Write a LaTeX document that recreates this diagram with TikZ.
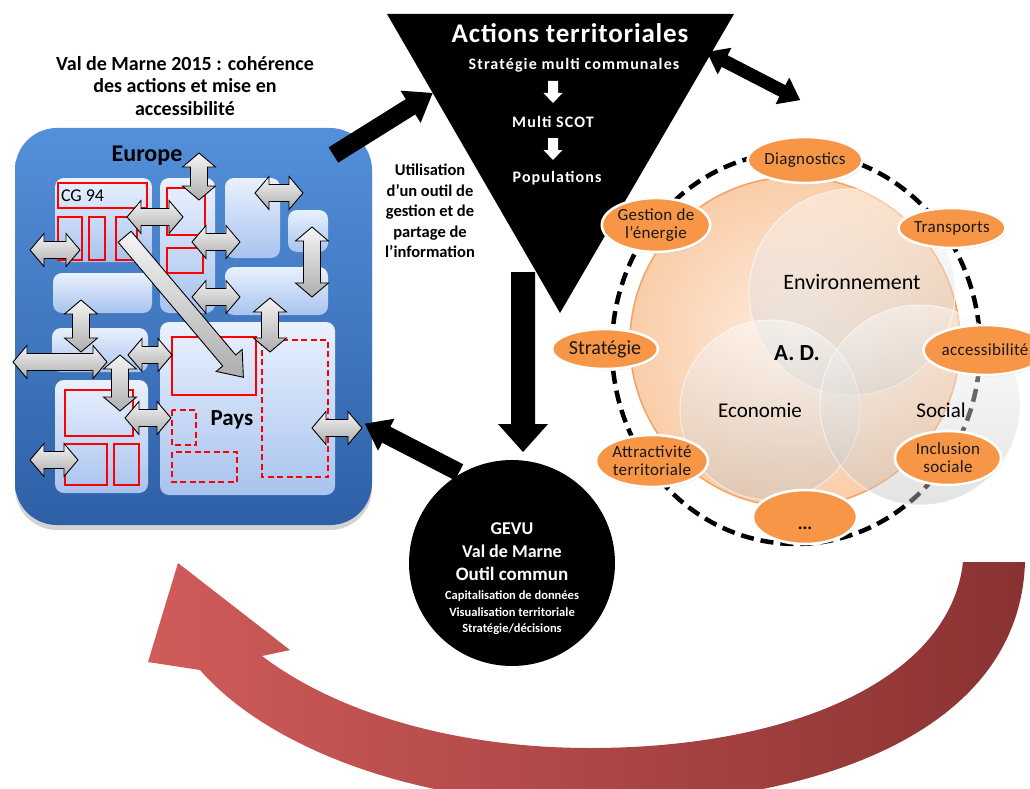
\documentclass[tikz,border=0pt]{standalone}
\usepackage{fontspec}
\setmainfont{Carlito}
\usetikzlibrary{shapes.geometric,shadows,calc}

\definecolor{panelTop}{RGB}{84,144,218}
\definecolor{panelBot}{RGB}{46,96,166}
\definecolor{boxTop}{RGB}{234,241,254}
\definecolor{boxBot}{RGB}{168,195,238}
\definecolor{orng}{RGB}{247,150,70}
\definecolor{peachIn}{RGB}{253,238,226}
\definecolor{peachOut}{RGB}{250,205,168}
\definecolor{peachEdge}{RGB}{244,162,100}
\definecolor{redLight}{RGB}{208,92,90}
\definecolor{redDark}{RGB}{138,50,50}

% block arrow: style, centre x, centre y, angle, half length, half shaft, half head, head length
\newcommand\blkarr[8]{%
  \path[#1, shift={(#2,#3)}, rotate=#4]
    (-#5,-#6) -- (#5-#8,-#6) -- (#5-#8,-#7) -- (#5,0) -- (#5-#8,#7) -- (#5-#8,#6) -- (-#5,#6) -- cycle;}
% double block arrow, same arguments
\newcommand\dblarr[8]{%
  \path[#1, shift={(#2,#3)}, rotate=#4]
    (-#5,0) -- (-#5+#8,-#7) -- (-#5+#8,-#6) -- (#5-#8,-#6) -- (#5-#8,-#7) -- (#5,0)
    -- (#5-#8,#7) -- (#5-#8,#6) -- (-#5+#8,#6) -- (-#5+#8,#7) -- cycle;}
% grey double arrow of the territory panel
\newcommand\garr[4]{\dblarr{garrow}{#1}{#2}{#3}{#4}{8.5}{16.5}{14}}

\begin{document}
\begin{tikzpicture}[x=1pt,y=-1pt,
  every node/.style={inner sep=0pt, outer sep=0pt, align=center},
  panel/.style={rounded corners=42pt, top color=panelTop, bottom color=panelBot},
  cell/.style={rounded corners=9pt, top color=boxTop, bottom color=boxBot},
  zone/.style={draw=red, line width=2.2pt},
  dzone/.style={draw=red, line width=2.2pt, dash pattern=on 6pt off 3.5pt},
  garrow/.style={draw=black, line width=0.9pt, top color=white!96!black, bottom color=black!32, line join=miter},
  blackarrow/.style={fill=black},
  whitearrow/.style={fill=white},
  bubble/.style={ellipse, fill=orng, draw=white, line width=2.6pt,
    font=\fontsize{17}{18}\selectfont\addfontfeature{LetterSpace=2}, text=black!90,
    drop shadow={opacity=0.25, shadow xshift=1pt, shadow yshift=-1.5pt}},
  venn/.style={top color=white, bottom color=black!24, fill opacity=0.45, draw=white, draw opacity=0.6, line width=1pt},
  ttl/.style={font=\fontsize{20}{22.5}\selectfont\bfseries},
  wtxt/.style={text=white, font=\fontsize{16}{18}\selectfont\bfseries\addfontfeature{LetterSpace=7}},
]
\useasboundingbox (0,0) rectangle (1030,789);

% ---------- large returning arrow ----------
\path[left color=redLight, right color=redDark]
  (178,563) -- (290,650) -- (262,656)
  .. controls (340,715) and (460,748) .. (590,748)
  .. controls (790,748) and (950,680) .. (963,562)
  -- (1025,562)
  .. controls (1020,730) and (820,805) .. (590,805)
  .. controls (420,805) and (270,750) .. (200,670)
  -- (148,662) -- cycle;

% ---------- title ----------
\node[ttl] (title) at (185,86) {Val de Marne 2015 : cohérence\\des actions et mise en\\accessibilité};

% ---------- territory panel ----------
\path[panel, drop shadow={opacity=0.35, shadow xshift=0pt, shadow yshift=-5pt}] (15,128) rectangle (372,525);
\node[font=\fontsize{24}{26}\selectfont\bfseries] (europe) at (147,156) {Europe};

\path[cell] (55,178) rectangle (152,262);
\path[cell] (160,178) rectangle (215,313);
\path[cell] (225,178) rectangle (280,258);
\path[cell] (288,210) rectangle (328,252);
\path[cell] (225,267) rectangle (328,315);
\path[cell] (53,273) rectangle (152,313);
\path[cell] (52,328) rectangle (148,372);
\path[cell] (55,380) rectangle (148,493);
\path[cell] (160,322) rectangle (335,495);

\draw[zone] (58,183) rectangle (147,208);
\node[font=\fontsize{18}{20}\selectfont, anchor=west] (cg) at (61,196) {CG 94};
\draw[zone] (58,217) rectangle (82,260);
\draw[zone] (89,217) rectangle (105,260);
\draw[zone] (116,217) rectangle (137,260);
\draw[zone] (167,188) rectangle (205,235);
\draw[zone] (167,248) rectangle (203,273);
\draw[zone] (65,390) rectangle (133,436);
\draw[zone] (65,444) rectangle (107,485);
\draw[zone] (114,444) rectangle (139,485);
\draw[zone] (172,337) rectangle (256,395);
\draw[dzone] (262,340) rectangle (328,477);
\draw[dzone] (172,410) rectangle (196,445);
\draw[dzone] (172,452) rectangle (237,482);
\node[font=\fontsize{23}{25}\selectfont\bfseries] (pays) at (232,420) {Pays};

% exchanges between territories
\garr{199}{176.5}{90}{23.5}
\garr{279}{193}{0}{24}
\garr{216}{242}{0}{24}
\garr{312}{262}{90}{35}
\garr{216}{297}{0}{24}
\garr{55}{250}{0}{25}
\garr{81}{326}{90}{26}
\garr{60}{362}{0}{47}
\garr{150}{355}{0}{22}
\garr{120}{383}{90}{28}
\garr{148}{418}{0}{23}
\garr{54}{460}{0}{24}
\garr{270}{325}{90}{27}
\garr{337}{428}{0}{25}
\blkarr{garrow}{184}{307}{-49.8}{92}{8.5}{17}{22}
\garr{155}{217}{0}{28}

% ---------- territorial actions ----------
\path[fill=black] (387,14) -- (734,14) -- (560,313) -- cycle;
\coordinate (apex) at (560,313);
\node[text=white, font=\fontsize{27}{29}\selectfont\bfseries\addfontfeature{LetterSpace=3}] (actions) at (570,33) {Actions territoriales};
\node[wtxt] (strat) at (574,65) {Stratégie multi communales};
\blkarr{whitearrow}{553}{92}{-90}{11}{5}{9.5}{10}
\node[wtxt] (scot) at (553,122) {Multi SCOT};
\blkarr{whitearrow}{553}{149}{-90}{11}{5}{9.5}{10}
\node[wtxt] (pop) at (557,178) {Populations};

\node[font=\fontsize{16.5}{20.5}\selectfont\bfseries] (util) at (430,211)
  {Utilisation\\d’un outil de\\gestion et de\\partage de\\l’information};

% ---------- GEVU ----------
\node[circle, fill=black, minimum size=206pt] (gevu) at (512,563) {};
\node[text=white, font=\fontsize{18}{22.5}\selectfont\bfseries] (gevut) at (512,552)
  {GEVU\\Val de Marne\\[1pt]{\fontsize{19}{21}\selectfont Outil commun}};
\node[text=white, font=\fontsize{12.5}{16.5}\selectfont\bfseries] (gevus) at (512,613)
  {Capitalisation de données\\Visualisation territoriale\\Stratégie/décisions};

% ---------- connecting arrows ----------
\blkarr{blackarrow}{383}{124}{32}{58.5}{9}{19}{26}
\dblarr{blackarrow}{753.5}{76}{-27.3}{52.5}{6.5}{15}{20}
\blkarr{blackarrow}{523}{362}{-90}{90}{12}{25}{28}
\blkarr{blackarrow}{412}{448}{152.7}{53}{9}{18}{24}

% ---------- sustainable development ----------
\path[inner color=peachIn, outer color=peachOut] (795,342) circle[radius=165pt];
\draw[peachEdge, line width=1.5pt] (795,342) circle[radius=165pt];
\draw[line width=4.5pt, dash pattern=on 13pt off 7pt] (796,348) ellipse[x radius=184pt, y radius=196pt];
\path[venn] (852,292) circle[radius=103pt];
\path[venn] (770,410) circle[radius=90pt];
\path[venn] (920,405) circle[radius=100pt];
\node[font=\fontsize{22}{24}\selectfont] (env) at (852,282) {Environnement};
\node[font=\fontsize{23}{25}\selectfont\bfseries] (ad) at (797,353) {A. D.};
\node[font=\fontsize{21}{23}\selectfont] (eco) at (760,410) {Economie};
\node[font=\fontsize{21}{23}\selectfont] (soc) at (941,410) {Social};

\node[bubble, minimum width=106pt, minimum height=46pt] (diag) at (805,160) {Diagnostics};
\node[bubble, minimum width=104pt, minimum height=40pt] (transp) at (952,228) {Transports};
\node[bubble, minimum width=102pt, minimum height=54pt] (gest) at (656,225) {Gestion de\\l’énergie};
\node[bubble, minimum width=106pt, minimum height=40pt, font=\fontsize{20}{22}\selectfont] (strg) at (605,349) {Stratégie};
\node[bubble, minimum width=100pt, minimum height=50pt] (acc) at (985,350) {accessibilité};
\node[bubble, minimum width=110pt, minimum height=52pt] (attr) at (652,461) {Attractivité\\territoriale};
\node[bubble, minimum width=106pt, minimum height=54pt] (incl) at (948,458) {Inclusion\\sociale};
\node[bubble, minimum width=104pt, minimum height=54pt] (more) at (805,517) {};
\node[font=\fontsize{18}{20}\selectfont\bfseries] (dots) at (805,528) {...};
\end{tikzpicture}
\end{document}
